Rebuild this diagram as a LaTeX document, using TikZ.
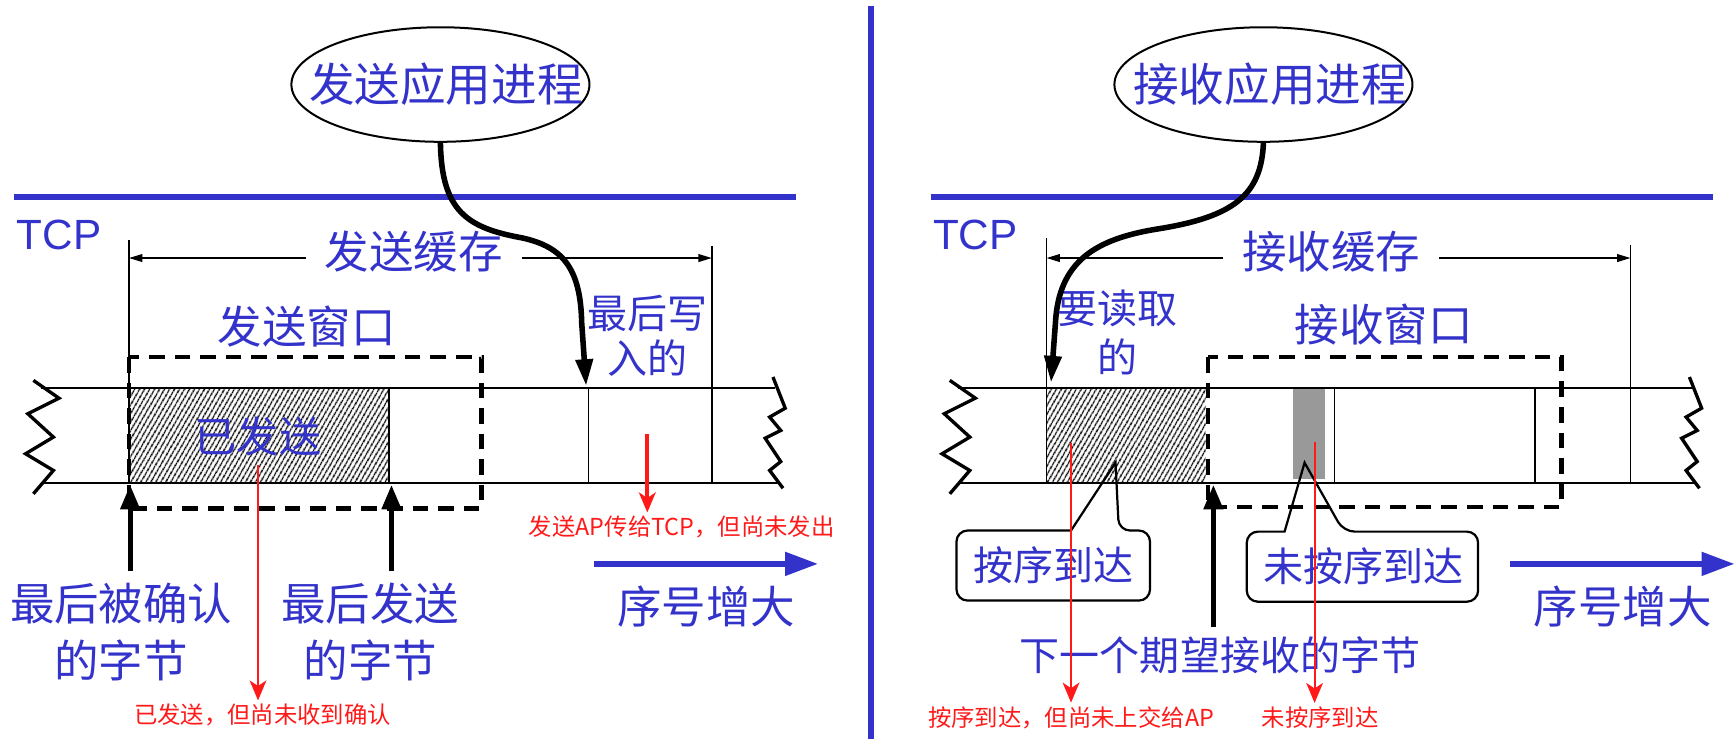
\documentclass[tikz,border=0pt]{standalone}
\usepackage{fontspec}
\setmainfont{Noto Sans CJK SC}
\newfontfamily\tcpfont{Liberation Sans}
\usepackage{color}
\usepackage{tikz}
\usetikzlibrary{arrows.meta,shapes.geometric,patterns.meta}
\definecolor{tcpblue}{RGB}{51,51,204}
\definecolor{notered}{RGB}{255,25,25}

\begin{document}
\begin{tikzpicture}[x=1pt,y=-1pt,
   lab/.style={text=tcpblue,font=\fontsize{40}{51}\selectfont,align=center,inner sep=0pt},
   labs/.style={lab,font=\fontsize{36}{43}\selectfont},
   appt/.style={lab,font=\fontsize{41}{49}\selectfont},
   note/.style={text=notered,font=\fontsize{21}{25}\selectfont,inner sep=3pt},
   tcp/.style={text=tcpblue,font=\tcpfont\fontsize{38}{40}\selectfont,inner sep=0pt},
   appbox/.style={draw,ellipse,line width=1.8pt,minimum width=268pt,minimum height=103pt,inner sep=0pt},
   tcprule/.style={draw=tcpblue,line width=6pt},
   stripline/.style={line width=1.8pt},
   brk/.style={line width=3pt,line join=miter},
   cell/.style={line width=1.5pt},
   dimline/.style={line width=1.2pt,-{Triangle[length=12pt,width=7pt]}},
   winbox/.style={line width=4pt,dash pattern=on 14pt off 9pt},
   hatch/.style={pattern={Lines[angle=60,distance=4pt,line width=1.3pt]}},
   ptr/.style={line width=4.5pt,-{Triangle[length=22pt,width=17pt]}},
   apparrow/.style={line width=5pt,-{Triangle[length=24pt,width=15pt]}},
   seqarrow/.style={draw=tcpblue,line width=6pt,-{Triangle[length=30pt,width=20pt]}},
   redline/.style={draw=notered,line width=2pt,-{Stealth[length=18pt,width=15pt,inset=5pt]}},
   bubble/.style={line width=2pt}]
   \useasboundingbox (0,0) rectangle (1560,664.5);
   \def\ytop{349} % top edge of the byte strip
   \def\ybot{434} % bottom edge of the byte strip
   \def\dx{824} % shift from sender half to receiver half
   % bytes already in the buffers
   \fill[hatch] (116,\ytop) rectangle (350,\ybot);
   \fill[hatch] (941,\ytop) rectangle (1084,\ybot);
   \fill[black!40] (1163,\ytop) rectangle (1191,431);
   % both halves share the strip, the rule and the arrow
   \foreach \o/\s in {0/l,\dx/r}{
   \draw[stripline] (37+\o,\ytop) -- (697+\o,\ytop) (37+\o,\ybot) -- (700+\o,\ybot);
   \draw[brk] (30+\o,342) -- (53+\o,358) -- (25+\o,372) -- (48+\o,393) -- (23+\o,408) -- (48+\o,423) -- (30+\o,444);
   \draw[brk] (695+\o,339) -- (706+\o,367) -- (692+\o,375) -- (702+\o,387) -- (688+\o,394) -- (702+\o,415) -- (692+\o,423) -- (704+\o,439);
   \draw[tcprule] (13+\o,177) -- (716+\o,177);
   \node[tcp] (tcp\s) at (53+\o,211) {TCP};
   \coordinate (seqa\s) at (534+\o,507);
   \coordinate (seqb\s) at (736+\o,507);
   \draw[seqarrow] (seqa\s) -- (seqb\s);
   \node[lab] (seq\s) at (635+\o,545) {序号增大};
   }
   % cells in the strip
   \foreach \x in {350,529,1200,1380}
   \draw[cell] (\x,\ytop) -- (\x,\ybot);
   % buffer limits
   \coordinate (sbl) at (116,232);
   \coordinate (sbr) at (640,232);
   \coordinate (rbl) at (941,232);
   \coordinate (rbr) at (1466,232);
   \draw[cell] (116,216) -- (116,\ybot) (640,221) -- (640,\ybot);
   \draw[cell] (941,214) -- (941,\ybot) (1466,220) -- (1466,\ybot);
   % windows
   \draw[winbox] (116,321) rectangle (433,457);
   \draw[winbox] (1086,321) rectangle (1404,456);
   % divider
   \draw[draw=tcpblue,line width=5pt] (783,5) -- (783,664.5);

   % sender
   \node[appbox] (sendapp) at (396,76) {};
   \node[appt] (sendappt) at (401,76) {发送应用进程};
   \node[lab,inner xsep=17pt] (sbuf) at (372,226) {发送缓存};
   \draw[dimline] (sbuf.west |- sbl) -- (sbl);
   \draw[dimline] (sbuf.east |- sbr) -- (sbr);
   \node[lab] (swin) at (276,294) {发送窗口};
   \node[lab,font=\fontsize{38}{46}\selectfont] (sentt) at (232,392) {已发送};
   \node[labs,font=\fontsize{36}{41}\selectfont] (lastwt) at (582,302) {最后写\\入的};
   \node[lab] (lastack) at (109,568) {最后被确认\\的字节};
   \node[lab] (lastsent) at (333,568) {最后发送\\的字节};
   \coordinate (lastw) at (527,347);
   \draw[apparrow] (sendapp.south) .. controls (397,190) and (420,205) .. (470,214)
      .. controls (505,222) and (522,240) .. (523,290) -- (lastw);
   \coordinate (ackb) at (117,513);
   \coordinate (ackt) at (117,436);
   \coordinate (sndb) at (352,513);
   \coordinate (sndt) at (352,436);
   \draw[ptr] (ackb) -- (ackt);
   \draw[ptr] (sndb) -- (sndt);

   % receiver
   \node[appbox] (recvapp) at (1136,76) {};
   \node[appt] (recvappt) at (1142,76) {接收应用进程};
   \node[lab,inner xsep=17pt] (rbuf) at (1197,226) {接收缓存};
   \draw[dimline] (rbuf.west |- rbl) -- (rbl);
   \draw[dimline] (rbuf.east |- rbr) -- (rbr);
   \node[lab] (rwin) at (1244,292) {接收窗口};
   \node[labs,font=\fontsize{36}{44}\selectfont] (toreadt) at (1005,299) {要读取\\的};
   \coordinate (toread) at (945,344);
   \draw[apparrow] (recvapp.south) .. controls (1134,175) and (1110,195) .. (1040,206)
      .. controls (985,215) and (952,235) .. (949,290) -- (toread);
   \node[labs] (inorder) at (947,508) {按序到达};
   \node[labs] (outorder) at (1226,509) {未按序到达};
   \draw[bubble] (963,477) [rounded corners=10pt] -- (860,477) -- (860,540) -- (1034,540) -- (1034,477) -- (1006,477) [sharp corners] -- (1003,416) -- cycle;
   \draw[bubble] (1155,478) [rounded corners=10pt] -- (1121,478) -- (1121,541) -- (1329,541) -- (1329,478) -- (1208,478) [sharp corners] -- (1173,416) -- cycle;
   \node[labs] (nextb) at (1097,589) {下一个期望接收的字节};
   \coordinate (nextbb) at (1091,564);
   \coordinate (nextbt) at (1091,436);
   \draw[ptr] (nextbb) -- (nextbt);

   % red notes
   \node[note] (sentnote) at (236,643) {已发送，但尚未收到确认};
   \node[note] (wrnote) at (613,474) {发送AP传给TCP，但尚未发出};
   \node[note] (innote) at (963,645) {按序到达，但尚未上交给AP};
   \node[note] (outnote) at (1187,645) {未按序到达};
   \coordinate (sentp) at (232,418);
   \coordinate (wrp) at (582,390);
   \coordinate (inp) at (963,398);
   \coordinate (outp) at (1182,397);
   \draw[redline] (sentp) -- (sentp |- sentnote.north);
   \draw[redline,line width=3.5pt] (wrp) -- (wrp |- wrnote.north);
   \draw[redline] (inp) -- (inp |- innote.north);
   \draw[redline] (outp) -- (outp |- outnote.north);
\end{tikzpicture}
\end{document}
